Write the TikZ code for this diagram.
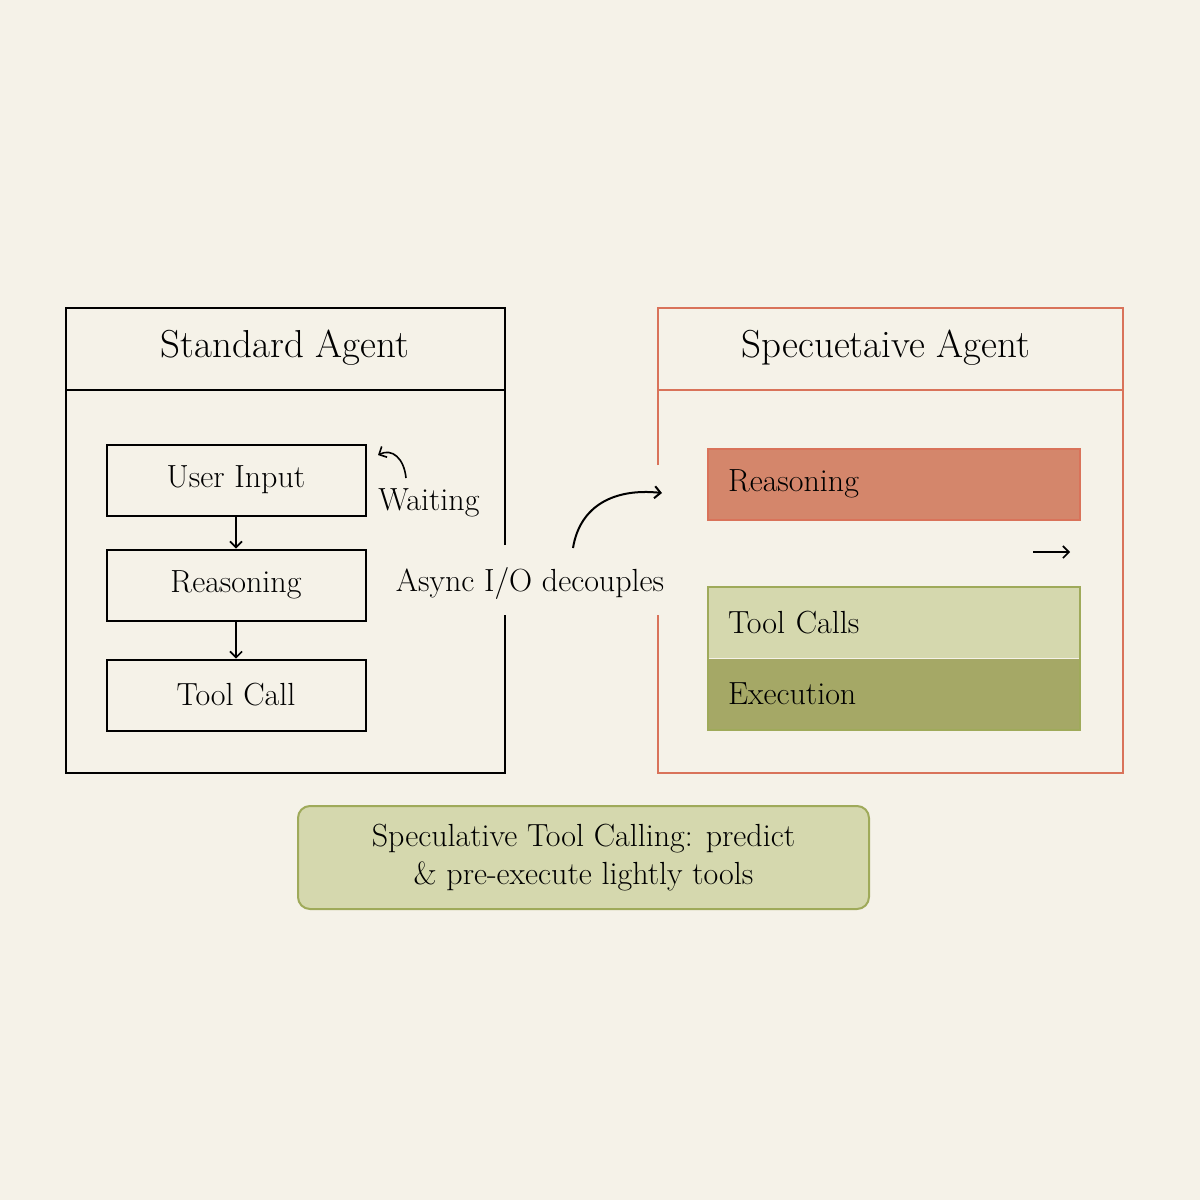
\documentclass[tikz,border=0pt]{standalone}
\usetikzlibrary{arrows.meta}
\definecolor{bg}{HTML}{F5F2E8}
\definecolor{redl}{HTML}{D9735A}
\definecolor{redf}{HTML}{D4866B}
\definecolor{gl}{HTML}{D5D8AE}
\definecolor{gd}{HTML}{A5A866}
\definecolor{gb}{HTML}{9FAA5A}
\begin{document}
\begin{tikzpicture}[x=0.5pt,y=-0.5pt,
 box/.style={draw=black,line width=1pt,minimum width=129.5pt,minimum height=35.5pt,font=\fontsize{16}{18}\selectfont},
 cbox/.style={minimum width=186pt,minimum height=35.5pt,font=\fontsize{16}{18}\selectfont,text width=166pt,align=left},
 ar/.style={-{Straight Barb[length=3pt]},line width=0.8pt}]
\fill[bg] (0,0) rectangle (1200,1200);
\useasboundingbox (0,0) rectangle (1200,1200);
% left panel
\draw[line width=1pt] (505,545) -- (505,308) -- (66,308) -- (66,773) -- (505,773) -- (505,615);
\draw[line width=1pt] (66,390) -- (505,390);
\node[font=\fontsize{19.5}{22}\selectfont] (t1) at (285,348) {Standard Agent};
\node[box] (ui) at (236,480) {User Input};
\node[box] (re) at (236,585) {Reasoning};
\node[box] (tc) at (236,695) {Tool Call};
\draw[ar] (ui) -- (re);
\draw[ar] (re) -- (tc);
\node[font=\fontsize{16}{18}\selectfont,anchor=west,inner sep=0] (wt) at (378,503) {Waiting};
\coordinate (w1) at (406,478);
\coordinate (w2) at (378,455);
\draw[ar] (w1) .. controls (404,458) and (392,448) .. (w2);
% right panel
\draw[redl,line width=1pt] (658,465) -- (658,308) -- (1123,308) -- (1123,773) -- (658,773) -- (658,615);
\draw[redl,line width=1pt] (658,390) -- (1123,390);
\node[font=\fontsize{19.5}{22}\selectfont] (t2) at (886,348) {Specuetaive Agent};
\node[cbox,fill=redf,draw=redl,line width=1pt] (r2) at (894,484) {Reasoning};
\node[cbox,fill=gl] (tcs) at (894,622.5) {Tool Calls};
\node[cbox,fill=gd] (ex) at (894,694) {Execution};
\draw[gb,line width=1pt] (tcs.north west) rectangle (ex.south east);
\coordinate (a1) at (1033,552);
\coordinate (a2) at (1070,552);
\draw[ar] (a1) -- (a2);
% middle
\node[font=\fontsize{16}{18}\selectfont] (as) at (530,583) {Async I/O decouples};
\coordinate (c1) at (573,548);
\coordinate (c2) at (662,493);
\draw[ar,line width=1pt] (c1) .. controls (580,505) and (615,488) .. (c2);
% bottom
\node[draw=gb,fill=gl,line width=1pt,rounded corners=6pt,minimum width=285.5pt,minimum height=51.5pt,align=center,font=\fontsize{16}{19}\selectfont] (bt) at (583.5,857.5) {Speculative Tool Calling: predict\\ \& pre-execute lightly tools};
\end{tikzpicture}
\end{document}
